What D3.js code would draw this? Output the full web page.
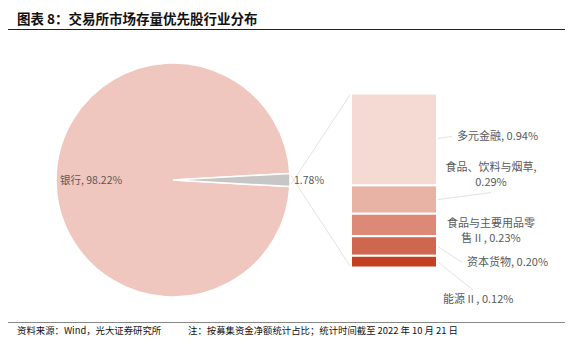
<!DOCTYPE html>
<html><head><meta charset="utf-8">
<script src="https://cdn.jsdelivr.net/npm/d3@7/dist/d3.min.js"></script>
<style>
html,body{margin:0;padding:0;background:#fff;}
svg{display:block;font-family:"Noto Sans CJK SC","Noto Sans",sans-serif;}
</style></head>
<body><svg id="c" width="573" height="357"></svg>
<script>
const pieCategories = ["银行", "其他"];
const pieValues = [98.22, 1.78];
const barCategories = ["多元金融", "食品、饮料与烟草", "食品与主要用品零售 II", "资本货物", "能源 II"];
const barValues = [0.94, 0.29, 0.23, 0.20, 0.12];
const barLabels = [["多元金融, 0.94%"], ["食品、饮料与烟草,", "0.29%"], ["食品与主要用品零", "售 II , 0.23%"], ["资本货物, 0.20%"], ["能源 II , 0.12%"]];
const pieColors = ["#efc7be", "#c6c6c6"];
const barColors = ["#f5dad4", "#e8b2a5", "#dc8a77", "#cf6750", "#c33f21"];

const svg = d3.select("#c");
// title
svg.append("text").attr("x", 17).attr("y", 24).attr("font-size", 13.5).attr("font-weight", "bold")
  .attr("fill", "#111").text("图表 8：交易所市场存量优先股行业分布");
svg.append("line").attr("x1", 8).attr("x2", 565).attr("y1", 29.5).attr("y2", 29.5).attr("stroke", "#222").attr("stroke-width", 1);
// footer
svg.append("line").attr("x1", 8).attr("x2", 565).attr("y1", 322.5).attr("y2", 322.5).attr("stroke", "#888").attr("stroke-width", 1);
svg.append("text").attr("x", 17).attr("y", 334).attr("font-size", 9.4).attr("fill", "#111").text("资料来源：Wind，光大证券研究所");
svg.append("text").attr("x", 188).attr("y", 334).attr("font-size", 9.4).attr("fill", "#111").text("注：按募集资金净额统计占比；统计时间截至 2022 年 10 月 21 日");

// pie
const cx = 173, cy = 180, r = 117;
const total = d3.sum(pieValues);
const otherAngle = pieValues[1] / total * 2 * Math.PI;
const start = Math.PI / 2 + otherAngle / 2;
const pie = d3.pie().sort(null).startAngle(start).endAngle(start + 2 * Math.PI);
const arcs = pie(pieValues);
const arc = d3.arc().innerRadius(0).outerRadius(r);
const g = svg.append("g").attr("transform", `translate(${cx},${cy})`);
g.selectAll("path").data(arcs).enter().append("path")
  .attr("d", arc).attr("fill", (d, i) => pieColors[i]).attr("stroke", "#fff").attr("stroke-width", 1.5);

// bar
const barX = 351, barW = 86, barTop = 93.5, barBot = 267.5;
const y = d3.scaleLinear().domain([0, d3.sum(barValues)]).range([barTop, barBot]);
let cum = 0;
const segs = barValues.map((v, i) => { const s = { i, y0: y(cum), y1: y(cum + v) }; cum += v; return s; });

// connector lines
const oa = arcs[1];
const p1 = [cx + (r + 1) * Math.sin(oa.startAngle) , cy - (r + 1) * Math.cos(oa.startAngle)];
const p2 = [cx + (r + 1) * Math.sin(oa.endAngle), cy - (r + 1) * Math.cos(oa.endAngle)];
svg.append("line").attr("x1", p2[0]).attr("y1", p2[1] - 2).attr("x2", barX).attr("y2", barTop).attr("stroke", "#d9d9d9").attr("stroke-width", 0.8);
svg.append("line").attr("x1", p1[0]).attr("y1", p1[1] + 2).attr("x2", barX).attr("y2", barBot).attr("stroke", "#d9d9d9").attr("stroke-width", 0.8);

svg.selectAll("rect.seg").data(segs).enter().append("rect").attr("class", "seg")
  .attr("x", barX).attr("width", barW).attr("y", d => d.y0).attr("height", d => d.y1 - d.y0)
  .attr("fill", d => barColors[d.i]).attr("stroke", "#fff").attr("stroke-width", 2);

// pie labels
svg.append("text").attr("x", 60).attr("y", 184).attr("font-size", 10.5).attr("fill", "#595959").text(pieCategories[0] + ", " + pieValues[0].toFixed(2) + "%");
svg.append("text").attr("x", 294).attr("y", 184).attr("font-size", 10.5).attr("fill", "#595959").text(pieValues[1].toFixed(2) + "%");

// bar labels and leaders
const mid = i => (segs[i].y0 + segs[i].y1) / 2;
const leaders = [
  [[438, mid(0) - 1], [452, 136.5]],
  [[438, mid(1)], [491, 192.5]],
  null,
  [[438, 246.5], [462, 262.5]],
  [[438, 262], [473, 290]]
];
const lab = [
  { x: 457, y: 140, anchor: "start" },
  { x: 491, y: 171, anchor: "middle" },
  { x: 491, y: 226.5, anchor: "middle" },
  { x: 467, y: 265.5, anchor: "start" },
  { x: 443, y: 302.5, anchor: "start" }
];
leaders.forEach(l => { if (l) svg.append("line").attr("x1", l[0][0]).attr("y1", l[0][1]).attr("x2", l[1][0]).attr("y2", l[1][1]).attr("stroke", "#d9d9d9").attr("stroke-width", 0.8); });
barLabels.forEach((lines, i) => {
  const t = svg.append("text").attr("x", lab[i].x).attr("y", lab[i].y).attr("font-size", 11).attr("fill", "#595959").attr("text-anchor", lab[i].anchor);
  lines.forEach((s, j) => t.append("tspan").attr("x", lab[i].x).attr("dy", j === 0 ? 0 : 15).text(s));
});
</script></body></html>
